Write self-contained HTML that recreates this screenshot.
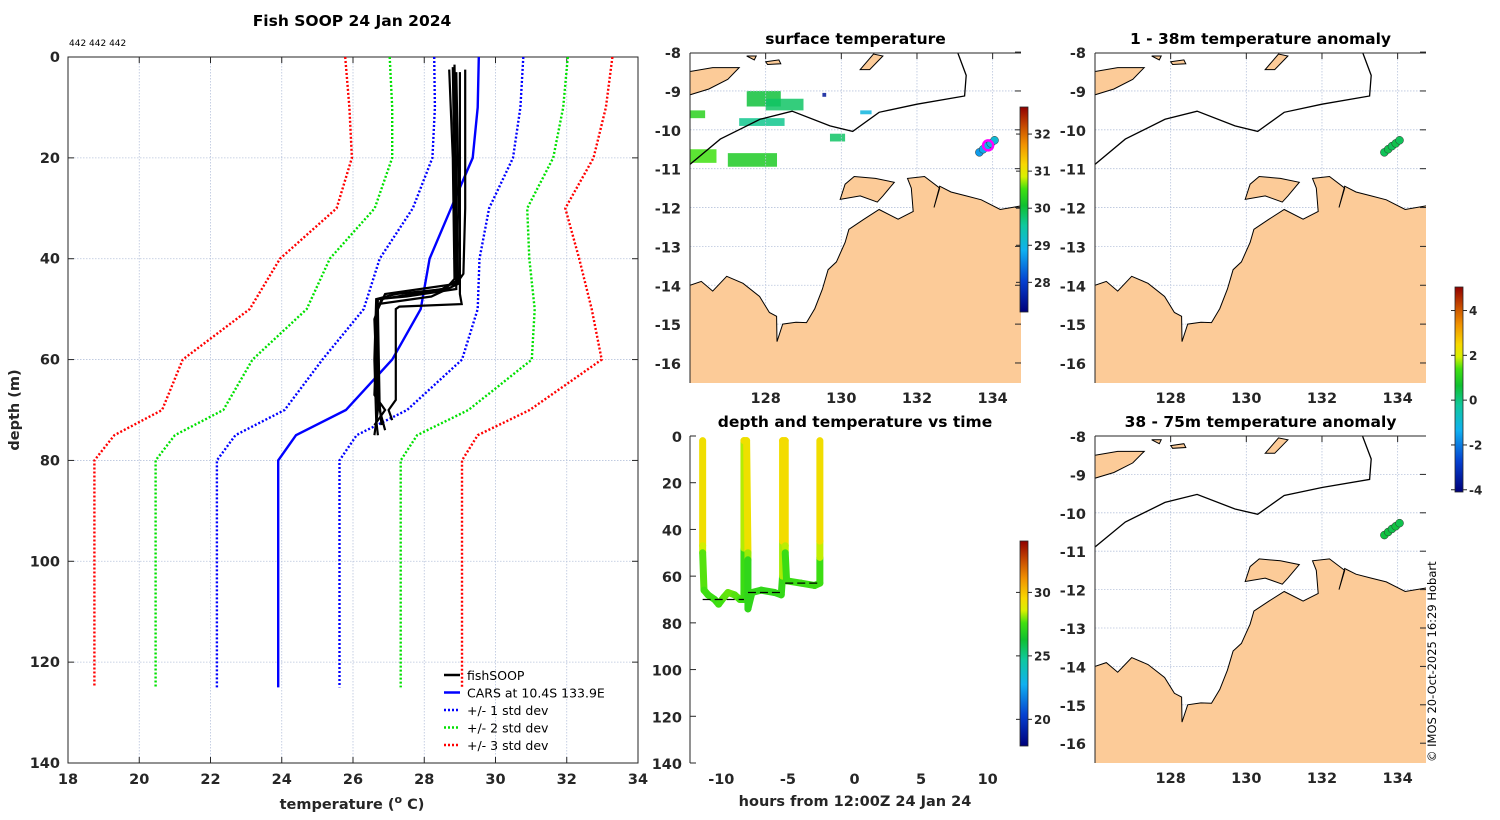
<!DOCTYPE html>
<html><head><meta charset="utf-8"><style>
html,body{margin:0;padding:0;background:#fff;}
svg{display:block;font-family:"DejaVu Sans","Liberation Sans",sans-serif;}
.t{font-weight:bold;font-size:14.5px;fill:#262626;}
.ttl{font-weight:bold;font-size:15.5px;fill:#000;}
</style></head><body>
<svg id="fig" width="1500" height="820" viewBox="0 0 1500 820" xmlns="http://www.w3.org/2000/svg">
<defs>
<linearGradient id="jet" x1="0" y1="1" x2="0" y2="0">
<stop offset="0" stop-color="#00007a"/><stop offset="0.15" stop-color="#0540d0"/><stop offset="0.3" stop-color="#10b0f0"/><stop offset="0.42" stop-color="#10c8a0"/><stop offset="0.52" stop-color="#10c030"/><stop offset="0.6" stop-color="#40e010"/><stop offset="0.66" stop-color="#d8f000"/><stop offset="0.72" stop-color="#f8d800"/><stop offset="0.82" stop-color="#f09000"/><stop offset="0.92" stop-color="#c04000"/><stop offset="1" stop-color="#900000"/>
</linearGradient>
</defs>
<g id="g"></g>
</svg>
<script>
// ---------- profile chart data ----------
const carsDepths=[0,10,20,30,40,50,60,70,75,80,125];
const carsMean=[29.53,29.5,29.36,28.75,28.15,27.9,27.1,25.8,24.4,23.9,23.9];
const carsStd=[1.25,1.2,1.13,1.07,1.4,1.6,1.96,1.72,1.7,1.72,1.72];
const xTicks=[18,20,22,24,26,28,30,32,34];
const yTicks=[0,20,40,60,80,100,120,140];
const fishProfiles=[
 [[2.5,28.7],[20,28.8],[44,28.85],[46,28.6],[47,27.2],[48,26.65],[60,26.6],[72,26.65],[75,26.7]],
 [[1.5,28.85],[25,28.9],[45,28.95],[47.5,28.2],[49,26.7],[65,26.7],[73,26.8]],
 [[2.5,29.15],[30,29.15],[43,29.1],[45,28.9],[47,26.9],[50,26.7],[70,26.75],[74,26.9]],
 [[3,28.9],[40,29.0],[47,29.0],[49,29.05],[49.5,27.3],[50,27.2],[68,27.2],[70,27.0],[72,27.1]],
 [[2,28.8],[46,28.9],[47.5,27.5],[48,26.7],[67,26.6],[70,26.9],[73,26.6]],
 [[3,29.0],[44,29.0],[46,28.5],[48,26.8],[52,26.6],[70,26.7],[75,26.6]]
];
// ---------- depth-time data ----------
const trackHours=[-11.4,-11.4,-11.4,-11.3,-11.0,-10.5,-10.2,-9.8,-9.5,-9.0,-8.6,-8.3,-8.3,-8.3,-8.1,-8.0,-8.0,-8.0,-7.7,-7.0,-6.0,-5.5,-5.4,-5.4,-5.4,-5.2,-5.2,-5.2,-5.1,-4.0,-3.0,-2.6,-2.6,-2.6,-2.6];
const trackDepth=[2,47,50,66,68,70,72,69,67,68,70,70,48,2,2,50,53,74,67,66,67,68,60,45,2,2,47,50,62,63,64,63,52,45,2];
const trackTemp=[29,28.9,27.5,27.3,27.2,27.1,27.1,27.4,27.5,27.5,27.3,27.2,27,29,29,28.8,26.9,26.8,26.9,26.9,26.9,26.9,27,28.9,29.1,29.1,29,27.1,27.1,27.1,27.1,27.1,27.2,29,29];
const bottomSegStart=[-11.4,-8.0,-5.2];
const bottomSegEnd=[-8.3,-5.4,-2.6];
const bottomSegDepth=[70,67,63];
const tHourTicks=[-10,-5,0,5,10];
const tDepthTicks=[0,20,40,60,80,100,120,140];
// ---------- map data ----------
const shipLon=[133.65,133.75,133.85,133.95,134.05];
const shipLat=[-10.58,-10.5,-10.42,-10.35,-10.27];
const sstVals=[28.7,28.8,28.9,29.0,29.1];
const anomVals=[0.3,0.4,0.3,0.4,0.3];
const anom2Vals=[0.5,0.5,0.4,0.5,0.4];
const lonTicks=[128,130,132,134];
const latTicks=[-8,-9,-10,-11,-12,-13,-14,-15,-16];

const NS='http://www.w3.org/2000/svg';
const G=document.getElementById('g');
function el(tag,attrs,parent,text){const e=document.createElementNS(NS,tag);for(const k in attrs)e.setAttribute(k,attrs[k]);if(text!==undefined)e.textContent=text;(parent||G).appendChild(e);return e;}

function jet(f){const st=[[0,[0,0,122]],[0.15,[5,64,208]],[0.3,[16,176,240]],[0.42,[16,200,160]],[0.52,[16,192,48]],[0.6,[64,224,16]],[0.66,[216,240,0]],[0.72,[248,216,0]],[0.82,[240,144,0]],[0.92,[192,64,0]],[1,[144,0,0]]];
 f=Math.max(0,Math.min(1,f));for(let i=1;i<st.length;i++){if(f<=st[i][0]){const a=st[i-1],b=st[i],t=(f-a[0])/(b[0]-a[0]);return 'rgb('+a[1].map((v,j)=>Math.round(v+(b[1][j]-v)*t)).join(',')+')';}}return 'rgb(144,0,0)';}

// ================= PROFILE CHART =================
const P={x0:68,x1:638,y0:57,y1:763,tmin:18,tmax:34,dmax:140};
const px=t=>P.x0+(t-P.tmin)/(P.tmax-P.tmin)*(P.x1-P.x0);
const py=d=>P.y0+d/P.dmax*(P.y1-P.y0);
const pc=el('g',{},G);
el('text',{x:352,y:26,'text-anchor':'middle',class:'ttl'},pc,'Fish SOOP 24 Jan 2024');
el('text',{x:69,y:46,'font-size':'9px',fill:'#000'},pc,'442 442 442');
xTicks.forEach(t=>{const x=px(t);
 const l=el('line',{x1:x,y1:P.y0,x2:x,y2:P.y1,stroke:'#b8c4dc','stroke-width':0.8,'stroke-dasharray':'1.5,1.5'},pc);
 el('line',{x1:x,y1:P.y1,x2:x,y2:P.y1-6,stroke:'#262626'},pc);el('line',{x1:x,y1:P.y0,x2:x,y2:P.y0+6,stroke:'#262626'},pc);
 const tx=el('text',{x:x,y:784,'text-anchor':'middle',class:'t'},pc,String(t));});
yTicks.forEach(d=>{const y=py(d);
 const l=el('line',{x1:P.x0,y1:y,x2:P.x1,y2:y,stroke:'#b8c4dc','stroke-width':0.8,'stroke-dasharray':'1.5,1.5'},pc);
 el('line',{x1:P.x0,y1:y,x2:P.x0+6,y2:y,stroke:'#262626'},pc);el('line',{x1:P.x1,y1:y,x2:P.x1-6,y2:y,stroke:'#262626'},pc);
 const tx=el('text',{x:60,y:y+5,'text-anchor':'end',class:'t'},pc,String(d));});
el('rect',{x:P.x0,y:P.y0,width:P.x1-P.x0,height:P.y1-P.y0,fill:'none',stroke:'#262626'},pc);
const yl=el('text',{x:19,y:410,'text-anchor':'middle',class:'t',transform:'rotate(-90 19 410)'},pc,'depth (m)');
const xl=el('text',{x:352,y:809,'text-anchor':'middle',class:'t','font-size':'15.5px'},pc);
xl.innerHTML='temperature (<tspan dy="-6" font-size="11">o</tspan><tspan dy="6"> C)</tspan>';
const sdCols=['#0000ff','#00e000','#ff0000'];
[1,2,3].forEach(k=>{[-1,1].forEach(s=>{const pts=carsDepths.map((d,i)=>px(carsMean[i]+s*k*carsStd[i]).toFixed(1)+','+py(d).toFixed(1)).join(' ');
 const pl=el('polyline',{points:pts,fill:'none',stroke:sdCols[k-1],'stroke-width':2.4,'stroke-dasharray':'2,2'},pc);});});
const cm=el('polyline',{points:carsDepths.map((d,i)=>px(carsMean[i]).toFixed(1)+','+py(d).toFixed(1)).join(' '),fill:'none',stroke:'#0000ff','stroke-width':2.4},pc);
fishProfiles.forEach((p,i)=>{const pl=el('polyline',{points:p.map(q=>px(q[1]).toFixed(1)+','+py(q[0]).toFixed(1)).join(' '),fill:'none',stroke:'#000','stroke-width':2.2},pc);});
// legend
const lg=el('g',{},pc);
const leg=[['fishSOOP','#000',''],['CARS at 10.4S 133.9E','#0000ff',''],['+/- 1 std dev','#0000ff','2,2'],['+/- 2 std dev','#00e000','2,2'],['+/- 3 std dev','#ff0000','2,2']];
leg.forEach((L,i)=>{const y=675+i*17.5;const e=el('g',{},lg);
 el('line',{x1:444,y1:y,x2:460,y2:y,stroke:L[1],'stroke-width':2.5,'stroke-dasharray':L[2]||'none'},e);
 el('text',{x:467,y:y+5,'font-size':'12.5px',fill:'#000'},e,L[0]);});

// ================= MAPS =================
const mainland=[[126,-14.0],[126.3,-13.9],[126.6,-14.15],[126.97,-13.77],[127.4,-13.95],[127.84,-14.29],[128.1,-14.7],[128.29,-14.8],[128.3,-15.45],[128.45,-15.0],[128.8,-14.95],[129.08,-14.96],[129.3,-14.6],[129.5,-14.1],[129.65,-13.6],[129.87,-13.4],[130.1,-12.9],[130.2,-12.56],[130.6,-12.3],[131.0,-12.05],[131.5,-12.3],[131.9,-12.1],[131.85,-11.5],[131.75,-11.25],[132.2,-11.2],[132.6,-11.5],[132.45,-12.0],[132.6,-11.45],[132.9,-11.6],[133.3,-11.7],[133.7,-11.8],[134.2,-12.05],[134.8,-11.95],[134.8,-16.6],[126,-16.6]];
const melville=[[129.97,-11.79],[130.1,-11.4],[130.34,-11.2],[130.9,-11.25],[131.4,-11.35],[131.1,-11.7],[130.95,-11.86],[130.5,-11.7]];
const timor=[[126,-8.5],[126.6,-8.4],[127.3,-8.4],[127.0,-8.7],[126.5,-8.95],[126,-9.1]];
const isl1=[[130.5,-8.45],[130.85,-8.05],[131.1,-8.1],[130.75,-8.45]];
const isl2=[[128.0,-8.25],[128.35,-8.2],[128.4,-8.3],[128.05,-8.32]];
const isl3=[[127.5,-8.1],[127.75,-8.1],[127.7,-8.2]];
const bathy=[[126,-10.89],[126.8,-10.24],[127.85,-9.73],[128.7,-9.52],[129.7,-9.9],[130.3,-10.04],[131.0,-9.55],[132.0,-9.34],[133.26,-9.13],[133.3,-8.6],[133.07,-8.0]];
const sstPatch=[[126,-10.5,0.7,0.35,30.5],[127.5,-9.0,0.9,0.4,30.0],[128,-9.2,1.0,0.3,29.8],[127.3,-9.7,1.2,0.2,29.6],[127,-10.6,1.3,0.35,30.2],[126,-9.5,0.4,0.2,30.3],[129.7,-10.1,0.4,0.2,29.8],[130.5,-9.5,0.3,0.1,29.0],[129.5,-9.05,0.1,0.1,27.5]];

function drawMap(cfg){
 const m=el('g',{},G);
 const X=lon=>cfg.x0+(lon-126)*cfg.sx, Y=lat=>cfg.y8+(-8-lat)*cfg.sy;
 el('clipPath',{id:'c'+cfg.name},m);el('rect',{x:cfg.x0,y:cfg.top,width:cfg.w,height:cfg.bot-cfg.top},m.lastChild);
 const inner=el('g',{'clip-path':'url(#c'+cfg.name+')'},m);
 if(cfg.sst){sstPatch.forEach(p=>{const r=el('rect',{x:X(p[0]),y:Y(p[1]),width:p[2]*cfg.sx,height:p[3]*cfg.sy,fill:jet((p[4]-27.2)/5.5),opacity:0.85},inner);});}
 lonTicks.forEach(l=>{el('line',{x1:X(l),y1:cfg.top,x2:X(l),y2:cfg.bot,stroke:'#b8c4dc','stroke-width':0.8,'stroke-dasharray':'1.5,1.5'},inner);});
 latTicks.forEach(l=>{el('line',{x1:cfg.x0,y1:Y(l),x2:cfg.x0+cfg.w,y2:Y(l),stroke:'#b8c4dc','stroke-width':0.8,'stroke-dasharray':'1.5,1.5'},inner);});
 [mainland,melville,timor,isl1,isl2,isl3].forEach((poly,i)=>{const pg=el('polygon',{points:poly.map(q=>X(q[0]).toFixed(1)+','+Y(q[1]).toFixed(1)).join(' '),fill:'#fccb98',stroke:'#000','stroke-width':1},inner);});
 const bl=el('polyline',{points:bathy.map(q=>X(q[0]).toFixed(1)+','+Y(q[1]).toFixed(1)).join(' '),fill:'none',stroke:'#000','stroke-width':1.3},inner);
 shipLon.forEach((lo,i)=>{const c=el('circle',{cx:X(lo),cy:Y(shipLat[i]),r:4,fill:cfg.dotColor(i),stroke:'#333','stroke-width':0.5},inner);});
 if(cfg.sst){el('circle',{cx:X(133.88),cy:Y(-10.4),r:5,fill:'none',stroke:'#ff00ff','stroke-width':2.5},inner);}
 el('line',{x1:cfg.x0,y1:cfg.top,x2:cfg.x0,y2:cfg.bot,stroke:'#262626'},m);
 el('line',{x1:cfg.x0,y1:cfg.top,x2:cfg.x0+cfg.w,y2:cfg.top,stroke:'#262626'},m);
 latTicks.forEach(l=>{const t=el('text',{x:cfg.x0-9,y:Y(l)+6,'text-anchor':'end',class:'t'},m,String(l));
  el('line',{x1:cfg.x0+cfg.w-6,y1:Y(l),x2:cfg.x0+cfg.w,y2:Y(l),stroke:'#262626'},m);});
 lonTicks.forEach(l=>{const t=el('text',{x:X(l),y:cfg.bot+20,'text-anchor':'middle',class:'t'},m,String(l));
  el('line',{x1:X(l),y1:cfg.top,x2:X(l),y2:cfg.top+6,stroke:'#262626'},m);});
 const tt=el('text',{x:cfg.x0+cfg.w/2,y:cfg.top-9,'text-anchor':'middle',class:'ttl'},m,cfg.title);
}
drawMap({name:'surface-temperature-map',title:'surface temperature',x0:690,w:331,top:53,bot:383,sx:37.83,y8:52.1,sy:38.86,sst:true,dotColor:i=>jet((sstVals[i]-27.2)/5.53)});
drawMap({name:'anomaly-1-38m-map',title:'1 - 38m temperature anomaly',x0:1095,w:331,top:53,bot:383,sx:37.83,y8:52.1,sy:38.86,dotColor:i=>jet((anomVals[i]+4.1)/9.1)});
drawMap({name:'anomaly-38-75m-map',title:'38 - 75m temperature anomaly',x0:1095,w:331,top:436,bot:763,sx:37.83,y8:436,sy:38.4,dotColor:i=>jet((anom2Vals[i]+4.1)/9.1)});

// colorbars
function cbar(name,x,top,bot,vmin,vmax,ticks){const g=el('g',{},G);
 el('rect',{x:x,y:top,width:8,height:bot-top,fill:'url(#jet)',stroke:'#262626','stroke-width':0.8},g);
 ticks.forEach(v=>{const y=bot-(v-vmin)/(vmax-vmin)*(bot-top);el('line',{x1:x-4,y1:y,x2:x,y2:y,stroke:'#262626'},g);el('line',{x1:x+8,y1:y,x2:x+12,y2:y,stroke:'#262626'},g);
  el('text',{x:x+14,y:y+4.5,'font-weight':'bold','font-size':'12px',fill:'#262626'},g,String(v));});}
cbar('sst-colorbar',1020,107,312,27.2,32.73,[28,29,30,31,32]);
cbar('depth-time-colorbar',1020,541,746,17.9,34.05,[20,25,30]);
cbar('anomaly-colorbar',1455,287,492,-4.1,5.05,[-4,-2,0,2,4]);

// ================= DEPTH-TIME =================
const T={x0:690,x1:1021,y0:436,y1:763,hmin:-12.35,hmax:12.5,dmax:140};
const tx=h=>T.x0+(h-T.hmin)/(T.hmax-T.hmin)*(T.x1-T.x0);
const ty=d=>T.y0+d/T.dmax*(T.y1-T.y0);
const dt=el('g',{},G);
el('text',{x:855,y:427,'text-anchor':'middle',class:'ttl'},dt,'depth and temperature vs time');
el('line',{x1:T.x0,y1:T.y0,x2:T.x0,y2:T.y1,stroke:'#262626'},dt);
tDepthTicks.forEach(d=>{el('line',{x1:T.x0,y1:ty(d),x2:T.x0+6,y2:ty(d),stroke:'#262626'},dt);const t=el('text',{x:T.x0-8,y:ty(d)+6,'text-anchor':'end',class:'t'},dt,String(d));});
tHourTicks.forEach(h=>{const t=el('text',{x:tx(h),y:784,'text-anchor':'middle',class:'t'},dt,String(h));});
el('text',{x:855,y:806,'text-anchor':'middle',class:'t','font-size':'15.5px'},dt,'hours from 12:00Z 24 Jan 24');
for(let i=1;i<trackHours.length;i++){const tm=(trackTemp[i]+trackTemp[i-1])/2;
 const s=el('line',{x1:tx(trackHours[i-1]),y1:ty(trackDepth[i-1]),x2:tx(trackHours[i]),y2:ty(trackDepth[i]),stroke:jet((tm-17.9)/16.15+0.02),'stroke-width':7,'stroke-linecap':'round'},dt);
 
 }
bottomSegStart.forEach((h,i)=>{const b=el('line',{x1:tx(h),y1:ty(bottomSegDepth[i]),x2:tx(bottomSegEnd[i]),y2:ty(bottomSegDepth[i]),stroke:'#000','stroke-width':1.2,'stroke-dasharray':'8,4'},dt);});

const cp=el('text',{x:1436,y:762,'font-size':'11.5px',fill:'#000',transform:'rotate(-90 1436 762)'},G,'© IMOS 20-Oct-2025 16:29 Hobart');

</script>
</body></html>
